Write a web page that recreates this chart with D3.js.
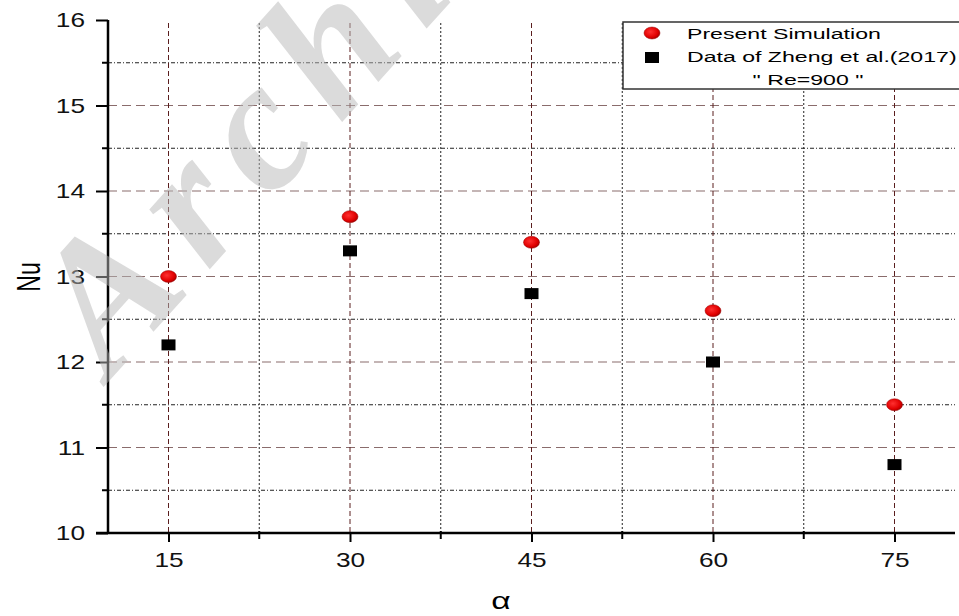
<!DOCTYPE html>
<html>
<head>
<meta charset="utf-8">
<script src="https://cdn.jsdelivr.net/npm/d3@7"></script>
<style>
  body { margin: 0; background: #fff; }
  svg { display: block; font-family: "Liberation Sans", Arial, sans-serif; }
</style>
</head>
<body>
<div id="chart"></div>
<script>
// angles and Nusselt numbers
const angles = [15, 30, 45, 60, 75];
const nuPresent = [13.0, 13.7, 13.4, 12.6, 11.5];
const nuZheng = [12.2, 13.3, 12.8, 12.0, 10.8];
const xTicks = [15, 30, 45, 60, 75];
const xMinorTicks = [22.5, 37.5, 52.5, 67.5];
const yTicks = [10, 11, 12, 13, 14, 15, 16];
const yMinorTicks = [10.5, 11.5, 12.5, 13.5, 14.5, 15.5];
const legendLabels = ["Present Simulation", "Data of Zheng et al.(2017)", "\" Re=900 \""];

const width = 959, height = 616;
const plotLeft = 108, plotRight = 955, plotTop = 20, plotBottom = 533;
const stretch = 1.25; // the source image is stretched sideways

// 10..80 on the x axis, the plot runs a bit past the right edge of the picture
const x = d3.scaleLinear().domain([10, 80]).range([plotLeft, plotLeft + 12.1 * 70]);
const y = d3.scaleLinear().domain([10, 16]).range([plotBottom, plotTop]);

const svg = d3.select("#chart").append("svg")
    .attr("width", width)
    .attr("height", height);

const defs = svg.append("defs");
const grad = defs.append("radialGradient").attr("id", "redball")
    .attr("cx", "40%").attr("cy", "40%").attr("r", "65%");
grad.append("stop").attr("offset", "0%").attr("stop-color", "#ff3030");
grad.append("stop").attr("offset", "70%").attr("stop-color", "#e00000");
grad.append("stop").attr("offset", "100%").attr("stop-color", "#a00000");

// grid
const grid = svg.append("g");
grid.append("g").selectAll("line")
    .data(yTicks.filter(d => d > 10 && d < 16))
    .join("line")
    .attr("x1", plotLeft).attr("x2", plotRight)
    .attr("y1", d => y(d)).attr("y2", d => y(d))
    .attr("stroke", "#8a6c6c").attr("stroke-width", 1.2)
    .attr("stroke-dasharray", "9,5");
grid.append("g").selectAll("line")
    .data(yMinorTicks)
    .join("line")
    .attr("x1", plotLeft).attr("x2", plotRight)
    .attr("y1", d => y(d)).attr("y2", d => y(d))
    .attr("stroke", "#222").attr("stroke-width", 1)
    .attr("stroke-dasharray", "4,2,1,2");
grid.append("g").selectAll("line")
    .data(xTicks)
    .join("line")
    .attr("x1", d => x(d)).attr("x2", d => x(d))
    .attr("y1", plotTop + 3).attr("y2", plotBottom)
    .attr("stroke", "#5a1e1e").attr("stroke-width", 1)
    .attr("stroke-dasharray", "5,3");
grid.append("g").selectAll("line")
    .data(xMinorTicks)
    .join("line")
    .attr("x1", d => x(d)).attr("x2", d => x(d))
    .attr("y1", plotTop + 3).attr("y2", plotBottom)
    .attr("stroke", "#222").attr("stroke-width", 1)
    .attr("stroke-dasharray", "2,2");

// axes
const yAxis = svg.append("g")
    .attr("transform", `translate(${plotLeft},0)`)
    .call(d3.axisLeft(y).tickValues(yTicks).tickSize(12).tickPadding(11).tickFormat(d3.format("d")));
yAxis.append("g").selectAll("line")
    .data(yMinorTicks)
    .join("line")
    .attr("x1", -6).attr("x2", 0)
    .attr("y1", d => y(d)).attr("y2", d => y(d))
    .attr("stroke", "#000").attr("stroke-width", 2);

const xAxis = svg.append("g")
    .attr("transform", `translate(0,${plotBottom})`)
    .call(d3.axisBottom(x).tickValues(xTicks).tickSize(9).tickPadding(10).tickFormat(d3.format("d")));
xAxis.append("g").selectAll("line")
    .data(xMinorTicks)
    .join("line")
    .attr("x1", d => x(d)).attr("x2", d => x(d))
    .attr("y1", -2).attr("y2", 6)
    .attr("stroke", "#000").attr("stroke-width", 2);

[yAxis, xAxis].forEach(a => {
  a.select(".domain").remove();
  a.selectAll(".tick line").attr("stroke-width", 2);
  a.selectAll(".tick text").attr("font-size", 21).attr("fill", "#111")
      .attr("font-family", "Liberation Sans, Arial, sans-serif")
      .attr("transform", `scale(${stretch},1)`);
});
yAxis.selectAll(".tick text").attr("x", -23 / stretch);

svg.append("line").attr("x1", plotLeft).attr("x2", plotLeft).attr("y1", plotTop).attr("y2", plotBottom)
    .attr("stroke", "#000").attr("stroke-width", 2.5);
svg.append("line").attr("x1", plotLeft - 12).attr("x2", plotRight).attr("y1", plotBottom).attr("y2", plotBottom)
    .attr("stroke", "#000").attr("stroke-width", 2.5);

// axis titles
svg.append("text")
    .attr("transform", "translate(40,277) scale(1.45,1) rotate(-90)")
    .attr("text-anchor", "middle")
    .attr("font-size", 23)
    .text("Nu");
svg.append("text")
    .attr("transform", "translate(501,609) scale(1.4,1)")
    .attr("text-anchor", "middle")
    .attr("font-size", 24)
    .text("α");

// data
svg.append("g").selectAll("rect")
    .data(angles.map((a, i) => [a, nuZheng[i]]))
    .join("rect")
    .attr("x", d => x(d[0]) - 7).attr("y", d => y(d[1]) - 5.5)
    .attr("width", 14).attr("height", 11)
    .attr("fill", "#000");
svg.append("g").selectAll("ellipse")
    .data(angles.map((a, i) => [a, nuPresent[i]]))
    .join("ellipse")
    .attr("cx", d => x(d[0])).attr("cy", d => y(d[1]))
    .attr("rx", 8).attr("ry", 6)
    .attr("fill", "url(#redball)")
    .attr("stroke", "#900").attr("stroke-width", 0.5);

// legend
const lg = svg.append("g");
lg.append("rect")
    .attr("x", 623).attr("y", 22).attr("width", 340).attr("height", 67)
    .attr("fill", "#fff").attr("stroke", "#333").attr("stroke-width", 1.5);
lg.append("ellipse").attr("cx", 652).attr("cy", 33).attr("rx", 8).attr("ry", 6)
    .attr("fill", "url(#redball)").attr("stroke", "#900").attr("stroke-width", 0.5);
lg.append("rect").attr("x", 645).attr("y", 52).attr("width", 14).attr("height", 11).attr("fill", "#000");
lg.append("text").attr("transform", "translate(687,39) scale(1.5,1)").attr("font-size", 15.4).text(legendLabels[0]);
lg.append("text").attr("transform", "translate(687,62) scale(1.5,1)").attr("font-size", 15.4).text(legendLabels[1]);
lg.append("text").attr("transform", "translate(808,85) scale(1.5,1)").attr("font-size", 15.4)
    .attr("text-anchor", "middle").text(legendLabels[2]);

// watermark
svg.append("text")
    .attr("transform", "translate(110,380) rotate(-48)")
    .attr("font-family", "Liberation Serif, Times New Roman, serif")
    .attr("font-style", "italic").attr("font-weight", "bold")
    .attr("font-size", 185)
    .attr("letter-spacing", 22)
    .attr("fill", "#b8b8b8").attr("fill-opacity", 0.5)
    .text("Archive");
</script>
</body>
</html>
